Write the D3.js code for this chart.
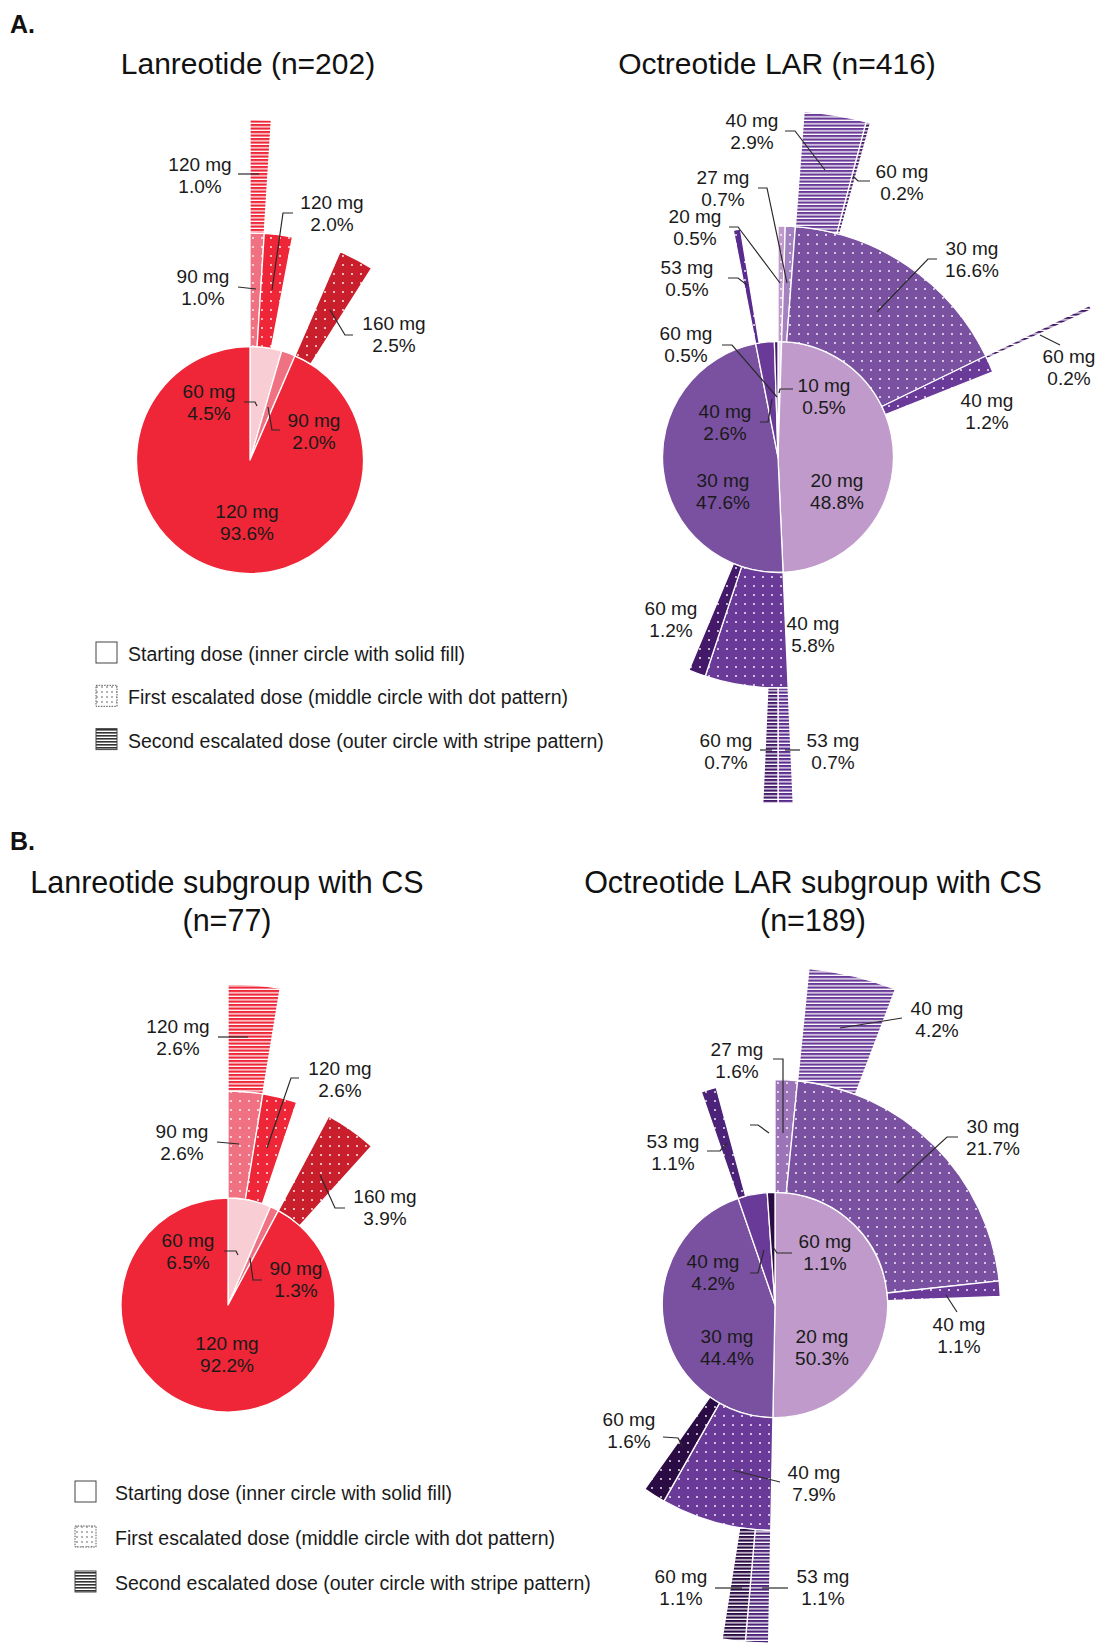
<!DOCTYPE html>
<html><head><meta charset="utf-8">
<script src="https://cdn.jsdelivr.net/npm/d3@7"></script>
<style>body{margin:0;background:#fff}text{font-family:"Liberation Sans",Arial,sans-serif}</style>
</head><body><svg id="chart" width="1097" height="1643"></svg>
<script>
// ---------- DATA (path = starting dose / first escalation / second escalation) ----------
const lanA_paths = ["60","60/90","60/90/120","60/120","90","120","120/160"];
const lanA_pct   = [4.5, 1.0, 1.0, 2.0, 2.0, 93.6, 2.5];

const octA_paths = ["10","10/20","20","20/27","20/30","20/30/40","20/30/60","20/40","20/40/60",
                    "30","30/40","30/40/53","30/40/60","30/60","40","40/53","60"];
const octA_pct   = [0.5,0.5,48.8,0.7,16.6,2.9,0.2,1.2,0.2,47.6,5.8,0.7,0.7,1.2,2.6,0.5,0.5];

const lanB_paths = ["60","60/90","60/90/120","60/120","90","120","120/160"];
const lanB_pct   = [6.5, 2.6, 2.6, 2.6, 1.3, 92.2, 3.9];

const octB_paths = ["20","20/27","20/30","20/30/40","20/40","30","30/40","30/40/53","30/40/60","30/60",
                    "40","40/53","60"];
const octB_pct   = [50.3,1.6,21.7,4.2,1.1,44.4,7.9,1.1,1.1,1.6,4.2,1.1,1.1];

// dose colours
const lan_doses  = ["60","90","120","160"];
const lan_colors = ["#F8CDD3","#F07282","#EE2637","#C91E2B"];
const octA_doses  = ["10","20","27","30","40","53","60"];
const octA_colors = ["#EBE0F0","#BF9ACA","#A482BF","#7A51A0","#6A3A98","#5A2B8E","#45196A"];
const octB_doses  = ["20","27","30","40","53","60"];
const octB_colors = ["#BF9ACA","#9C74B8","#7A51A0","#6A3A98","#4C2379","#2B0B44"];

const legendItems = ["Starting dose (inner circle with solid fill)",
                     "First escalated dose (middle circle with dot pattern)",
                     "Second escalated dose (outer circle with stripe pattern)"];

// ---------- LAYOUT (label anchors relative to chart centre) ----------
const lanA_labels = {
  "60/90/120":{t:[-50,-289], l:[[-12,-286],[9,-286]]},
  "60/120":{t:[82,-251], l:[[43,-247],[33,-247],[22,-170]]},
  "60/90":{t:[-47,-177], l:[[-12,-173],[6,-171]]},
  "120/160":{t:[144,-130], l:[[103,-125],[95,-125],[80,-150]]},
  "60":{t:[-41,-62], l:[[-6,-58],[5,-58],[7,-54]]},
  "90":{t:[64,-33], l:[[30,-30],[22,-30],[18,-53]]},
  "120":{t:[-3,58]}
};
const octA_labels = {
  "20/30/40":{t:[-26,-330], l:[[7,-326],[17,-326],[47,-287]]},
  "20/30/60":{t:[124,-279], l:[[92,-276],[80,-276],[75,-281]]},
  "20/27":{t:[-55,-273], l:[[-20,-269],[-11,-269],[9,-174]]},
  "10/20":{t:[-83,-234], l:[[-49,-230],[-40,-230],[2,-174]]},
  "40/53":{t:[-91,-183], l:[[-50,-179],[-40,-179],[-31,-172]]},
  "20/30":{t:[194,-202], l:[[159,-198],[150,-198],[99,-145]]},
  "60":{t:[-92,-117], l:[[-56,-112],[-46,-112],[-1,-60]]},
  "20/40/60":{t:[291,-94], l:[[282,-112],[262,-122]]},
  "10":{t:[46,-65], l:[[15,-68],[2,-68],[1,-64]]},
  "40":{t:[-53,-39], l:[[-18,-35],[-10,-35],[-6,-58]]},
  "20/40":{t:[209,-50]},
  "30":{t:[-55,30]},
  "20":{t:[59,30]},
  "30/60":{t:[-107,158]},
  "30/40":{t:[35,173]},
  "30/40/60":{t:[-52,290], l:[[-18,293],[-6,293]]},
  "30/40/53":{t:[55,290], l:[[22,293],[7,293]]}
};
const lanB_labels = {
  "60/90/120":{t:[-50,-272], l:[[-10,-268],[20,-268]]},
  "60/120":{t:[112,-230], l:[[71,-227],[63,-227],[39,-157]]},
  "60/90":{t:[-46,-167], l:[[-11,-163],[11,-161]]},
  "120/160":{t:[157,-102], l:[[117,-97],[107,-97],[92,-130]]},
  "60":{t:[-40,-58], l:[[-4,-54],[8,-54],[10,-50]]},
  "90":{t:[68,-30], l:[[34,-25],[25,-25],[22,-47]]},
  "120":{t:[-1,45]}
};
const octB_labels = {
  "20/30/40":{t:[162,-290], l:[[127,-287],[65,-277]]},
  "20/27":{t:[-38,-249], l:[[-2,-246],[8,-246],[8,-172]]},
  "40/53":{t:[-102,-157], l:[[-68,-154],[-55,-154],[-48,-162]]},
  "20/30":{t:[218,-172], l:[[183,-168],[172,-168],[122,-122]]},
  "60":{t:[50,-57], l:[[17,-52],[2,-52],[-2,-58]]},
  "40":{t:[-62,-37], l:[[-25,-32],[-17,-32],[-11,-55]]},
  "20/40":{t:[184,26], l:[[171,-10],[182,7]]},
  "30":{t:[-48,38]},
  "20":{t:[47,38]},
  "30/60":{t:[-146,121], l:[[-112,132],[-97,133],[-92,142]]},
  "30/40":{t:[39,174], l:[[5,177],[-43,165]]},
  "30/40/60":{t:[-94,278], l:[[-60,283],[-33,283]]},
  "30/40/53":{t:[48,278], l:[[13,283],[-13,283]]}
};
const octB_extraLines = [[[-25,-180],[-17,-180],[-6,-172]]];

const charts = [
  {key:"lanA", paths:lanA_paths, pct:lanA_pct, doses:lan_doses, colors:lan_colors, cx:250, cy:460, ring:113.5, labels:lanA_labels, extra:[]},
  {key:"octA", paths:octA_paths, pct:octA_pct, doses:octA_doses, colors:octA_colors, cx:778, cy:457, ring:115.5, labels:octA_labels, extra:[]},
  {key:"lanB", paths:lanB_paths, pct:lanB_pct, doses:lan_doses, colors:lan_colors, cx:228, cy:1305, ring:107, labels:lanB_labels, extra:[]},
  {key:"octB", paths:octB_paths, pct:octB_pct, doses:octB_doses, colors:octB_colors, cx:775, cy:1305, ring:112.7, labels:octB_labels, extra:octB_extraLines}
];

// ---------- DRAW ----------
const svg = d3.select("#chart");
svg.append("rect").attr("width",1097).attr("height",1643).attr("fill","#fff");
const defs = svg.append("defs");

function dotPattern(id, color){
  const p = defs.append("pattern").attr("id",id).attr("patternUnits","userSpaceOnUse").attr("width",9).attr("height",9);
  p.append("rect").attr("width",9).attr("height",9).attr("fill",color);
  p.append("circle").attr("cx",3).attr("cy",3).attr("r",1).attr("fill","#fff").attr("opacity",0.9);
}
function stripePattern(id, color){
  const p = defs.append("pattern").attr("id",id).attr("patternUnits","userSpaceOnUse").attr("width",6).attr("height",3.5);
  p.append("rect").attr("width",6).attr("height",3.5).attr("fill",color);
  p.append("rect").attr("y",2.2).attr("width",6).attr("height",1.3).attr("fill","#fff");
}

function buildRoot(paths, pct){
  const rows = [{id:"root", parentId:null, own:0}];
  paths.forEach((p,i)=>{
    const lvl = p.split("/").length;
    const childSum = d3.sum(paths, (q,j)=> (q.startsWith(p+"/") && q.split("/").length===lvl+1) ? pct[j] : 0);
    rows.push({id:p, parentId: lvl>1 ? p.slice(0,p.lastIndexOf("/")) : "root",
               own: Math.max(0, pct[i]-childSum), pct: pct[i], dose: p.split("/").pop()});
  });
  const root = d3.stratify().id(d=>d.id).parentId(d=>d.parentId)(rows);
  root.sum(d=>d.own);
  d3.partition().size([1,1])(root);
  return root;
}

charts.forEach(ch=>{
  const root = buildRoot(ch.paths, ch.pct);
  const color = d3.scaleOrdinal().domain(ch.doses).range(ch.colors);
  const angle = d3.scaleLinear().domain([0,1]).range([0, 2*Math.PI]);
  const radius = d3.scaleLinear().domain([0,3]).range([0, 3*ch.ring]);
  ch.doses.forEach(d=>{
    dotPattern(`${ch.key}-dot-${d}`, color(d));
    stripePattern(`${ch.key}-str-${d}`, color(d));
  });
  const arc = d3.arc()
    .startAngle(d=>angle(d.x0)).endAngle(d=>angle(d.x1))
    .innerRadius(d=>radius(d.depth-1)).outerRadius(d=>radius(d.depth));
  const g = svg.append("g").attr("transform",`translate(${ch.cx},${ch.cy})`);
  const nodes = root.descendants().filter(d=>d.depth>0);
  g.selectAll("path.wedge").data(nodes).join("path")
    .attr("class","wedge")
    .attr("d",arc)
    .attr("fill",d=> d.depth===1 ? color(d.data.dose)
                    : d.depth===2 ? `url(#${ch.key}-dot-${d.data.dose})`
                    : `url(#${ch.key}-str-${d.data.dose})`)
    .attr("stroke","#fff").attr("stroke-width",1.3).attr("stroke-linejoin","round");

  const line = d3.line();
  nodes.forEach(n=>{
    const lab = ch.labels[n.data.id];
    if(!lab) return;
    if(lab.l) g.append("path").attr("d",line(lab.l)).attr("fill","none").attr("stroke","#2a2a2a").attr("stroke-width",1.2);
    const t = g.append("text").attr("text-anchor","middle").attr("font-size",19).attr("fill","#1a1a1a");
    t.append("tspan").attr("x",lab.t[0]).attr("y",lab.t[1]).text(`${n.data.dose} mg`);
    t.append("tspan").attr("x",lab.t[0]).attr("y",lab.t[1]+21.5).text(`${n.data.pct.toFixed(1)}%`);
  });
  ch.extra.forEach(pts=>{
    g.append("path").attr("d",line(pts)).attr("fill","none").attr("stroke","#2a2a2a").attr("stroke-width",1.2);
  });
});

// titles
function txt(x,y,s,size,opts={}){
  return svg.append("text").attr("x",x).attr("y",y).attr("font-size",size)
    .attr("text-anchor",opts.anchor||"middle").attr("font-weight",opts.bold?"bold":"normal")
    .attr("fill","#111").text(s);
}
txt(10,33,"A.",25,{anchor:"start",bold:true});
txt(248,74,"Lanreotide (n=202)",30);
txt(777,74,"Octreotide LAR (n=416)",30);
txt(10,850,"B.",25,{anchor:"start",bold:true});
txt(227,893,"Lanreotide subgroup with CS",30.5);
txt(227,931,"(n=77)",30.5);
txt(813,893,"Octreotide LAR subgroup with CS",30.5);
txt(813,931,"(n=189)",30.5);

// legend patterns
const lp1 = defs.append("pattern").attr("id","leg-dot").attr("patternUnits","userSpaceOnUse").attr("width",5).attr("height",5);
lp1.append("rect").attr("width",5).attr("height",5).attr("fill","#fff");
lp1.append("circle").attr("cx",2).attr("cy",2).attr("r",0.8).attr("fill","#555");
const lp2 = defs.append("pattern").attr("id","leg-str").attr("patternUnits","userSpaceOnUse").attr("width",6).attr("height",3);
lp2.append("rect").attr("width",6).attr("height",3).attr("fill","#fff");
lp2.append("rect").attr("width",6).attr("height",1.6).attr("fill","#333");

function legend(x, y, step, tx){
  legendItems.forEach((s,i)=>{
    const by = y + i*step;
    svg.append("rect").attr("x",x).attr("y",by).attr("width",21).attr("height",21)
      .attr("fill", i===0 ? "#fff" : i===1 ? "url(#leg-dot)" : "url(#leg-str)")
      .attr("stroke", i===1 ? "#555" : "#444").attr("stroke-width",1)
      .attr("stroke-dasharray", i===1 ? "1.5,1.2" : null);
    txt(tx, by+19, s, 19.5, {anchor:"start"}).attr("fill","#1a1a1a");
  });
}
legend(96, 642, 43.3, 128);
legend(75, 1481, 45, 115);
</script>
</body></html>
